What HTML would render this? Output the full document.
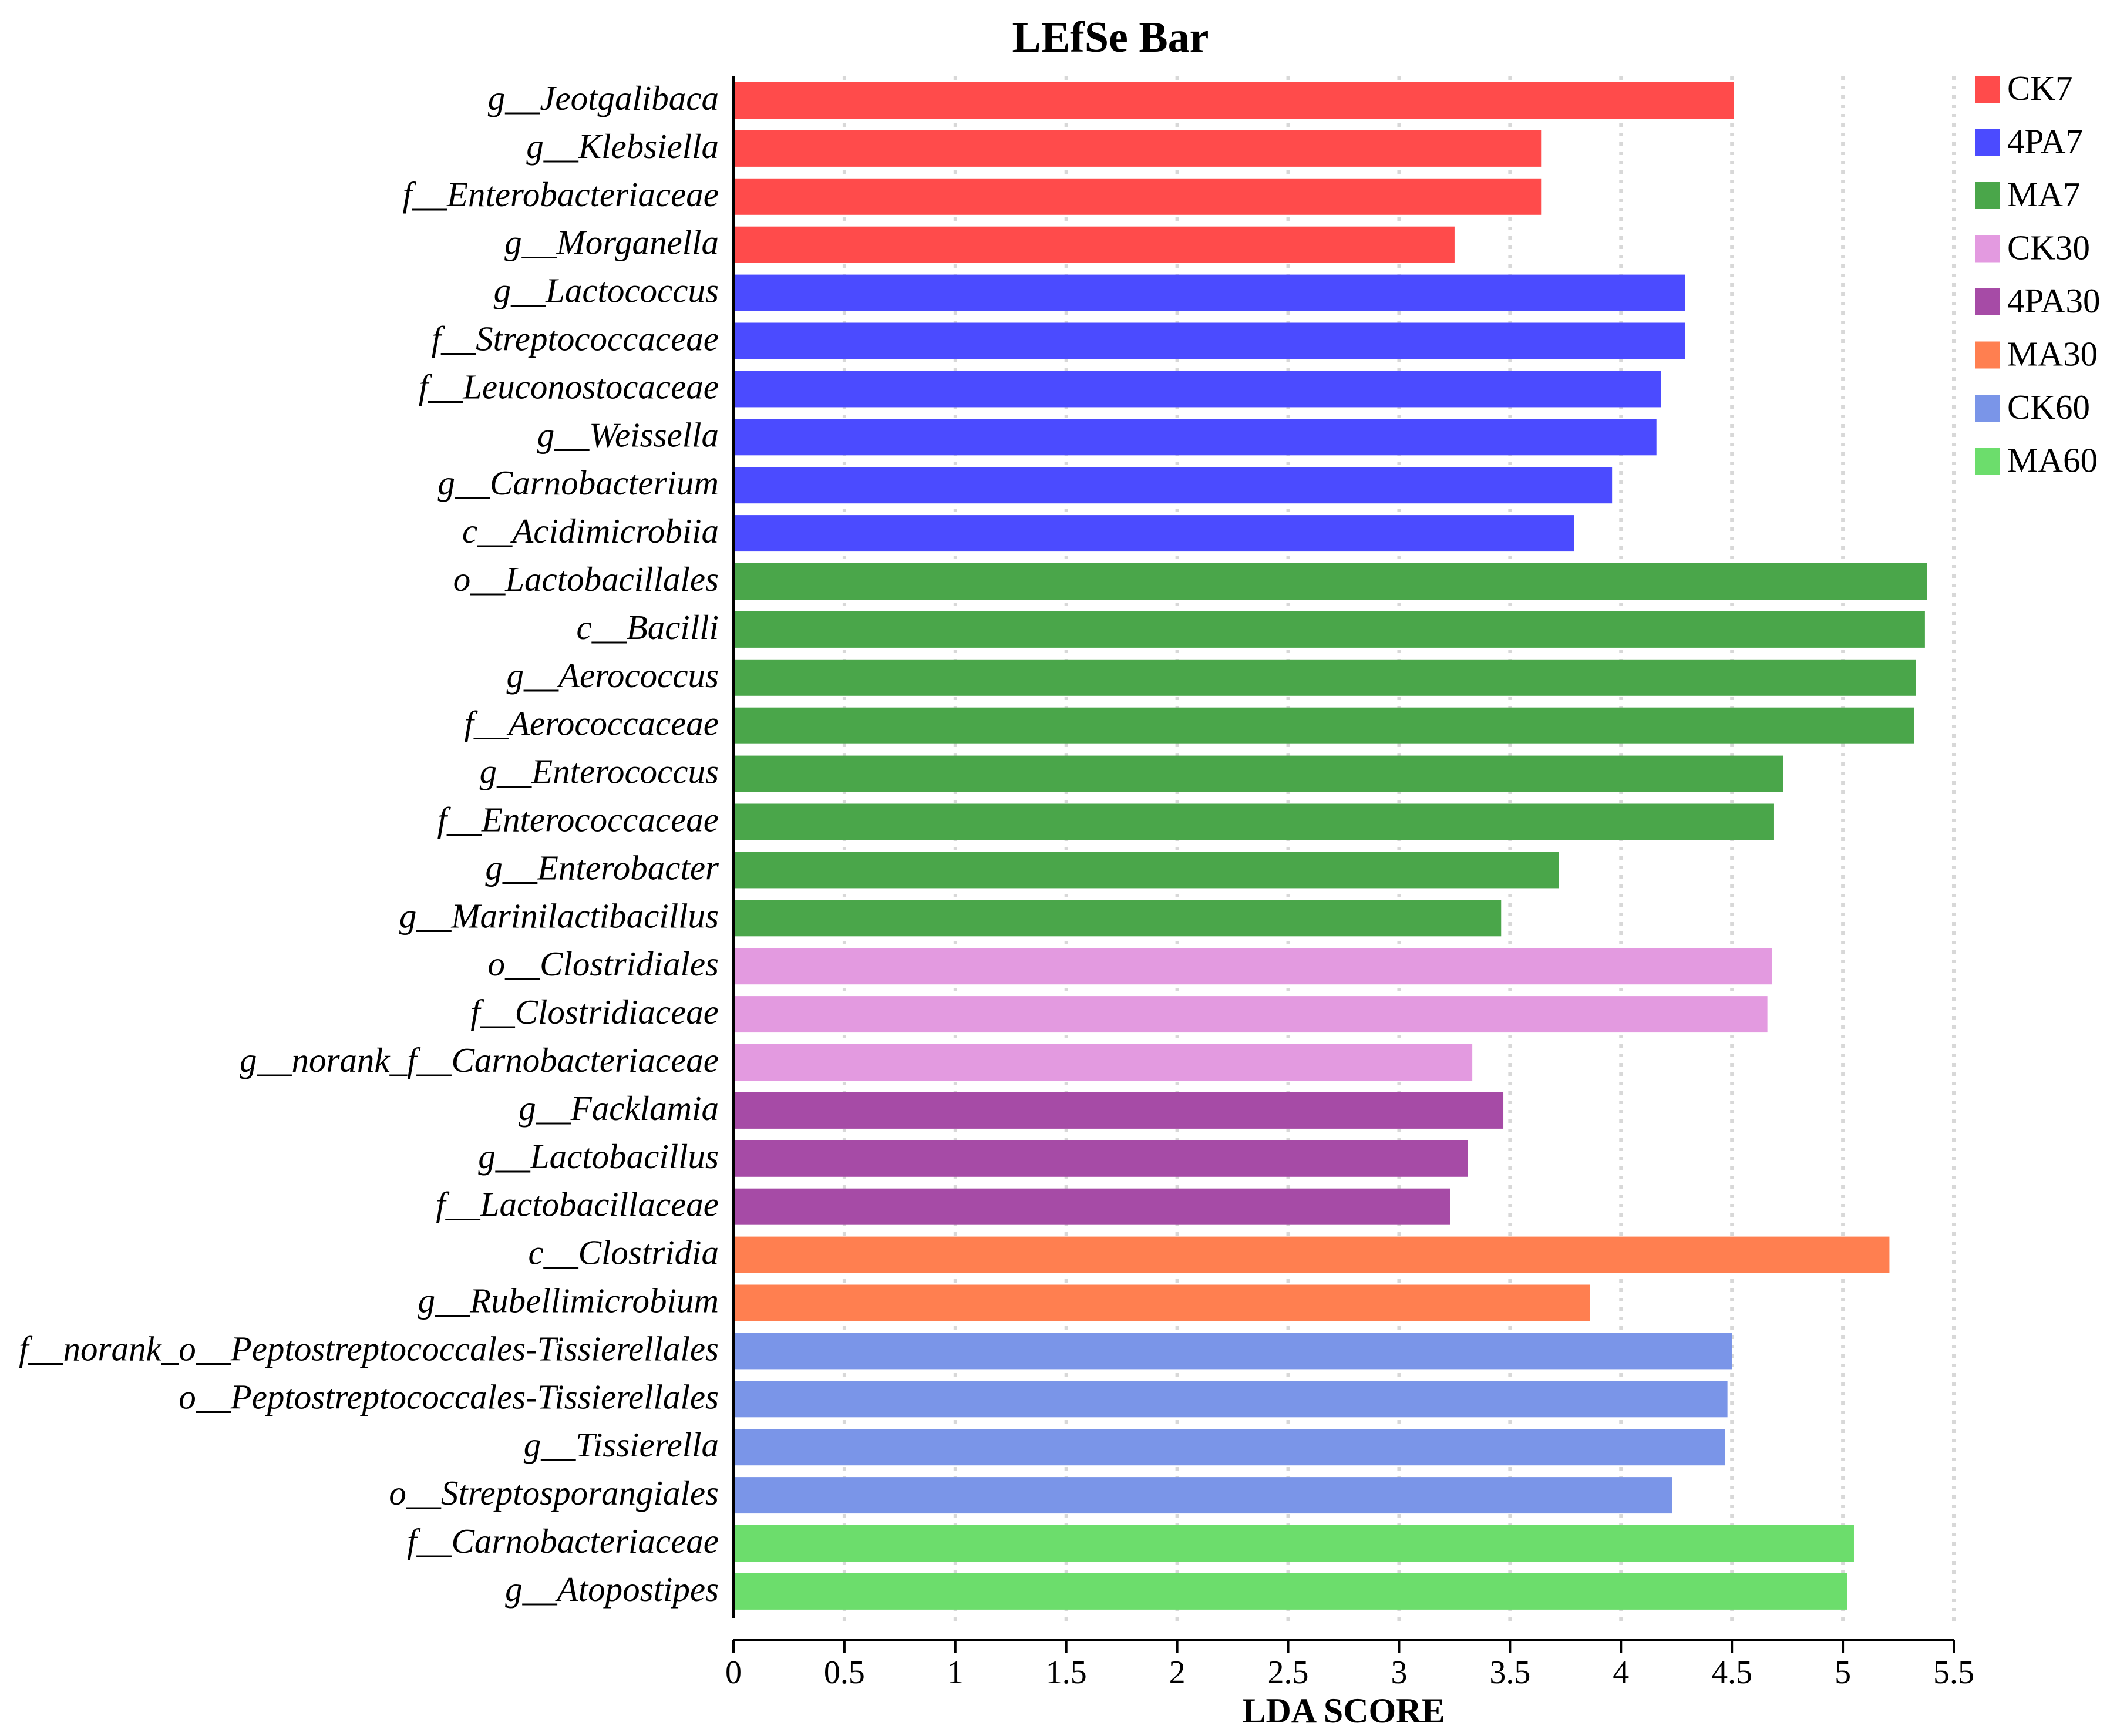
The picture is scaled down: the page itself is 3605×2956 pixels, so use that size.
<!DOCTYPE html>
<html><head><meta charset="utf-8">
<style>html,body{margin:0;padding:0;background:#fff;}svg{display:block;}</style>
</head><body>
<svg id="chart" width="3605" height="2956" xmlns="http://www.w3.org/2000/svg" font-family="'Liberation Serif', serif">
<text x="1891" y="88" font-size="74" font-weight="bold" text-anchor="middle">LEfSe Bar</text>
<text x="2288" y="2933" font-size="60" font-weight="bold" text-anchor="middle">LDA SCORE</text>
<g id="grid"></g><g id="bars"></g><g id="labels"></g><g id="axis"></g><g id="legend"></g>
</svg>
<script>
const taxa = ["g__Jeotgalibaca","g__Klebsiella","f__Enterobacteriaceae","g__Morganella","g__Lactococcus","f__Streptococcaceae","f__Leuconostocaceae","g__Weissella","g__Carnobacterium","c__Acidimicrobiia","o__Lactobacillales","c__Bacilli","g__Aerococcus","f__Aerococcaceae","g__Enterococcus","f__Enterococcaceae","g__Enterobacter","g__Marinilactibacillus","o__Clostridiales","f__Clostridiaceae","g__norank_f__Carnobacteriaceae","g__Facklamia","g__Lactobacillus","f__Lactobacillaceae","c__Clostridia","g__Rubellimicrobium","f__norank_o__Peptostreptococcales-Tissierellales","o__Peptostreptococcales-Tissierellales","g__Tissierella","o__Streptosporangiales","f__Carnobacteriaceae","g__Atopostipes"];
const scores = [4.51,3.64,3.64,3.25,4.29,4.29,4.18,4.16,3.96,3.79,5.38,5.37,5.33,5.32,4.73,4.69,3.72,3.46,4.68,4.66,3.33,3.47,3.31,3.23,5.21,3.86,4.50,4.48,4.47,4.23,5.05,5.02];
const groups = ["CK7","CK7","CK7","CK7","4PA7","4PA7","4PA7","4PA7","4PA7","4PA7","MA7","MA7","MA7","MA7","MA7","MA7","MA7","MA7","CK30","CK30","CK30","4PA30","4PA30","4PA30","MA30","MA30","CK60","CK60","CK60","CK60","MA60","MA60"];
const groupNames = ["CK7","4PA7","MA7","CK30","4PA30","MA30","CK60","MA60"];
const groupColors = ["#ff4b4b","#4b4bff","#4aa64a","#e39ae0","#a64ba6","#ff7f50","#7a95e8","#6cdd6c"];
const ticks = ["0","0.5","1","1.5","2","2.5","3","3.5","4","4.5","5","5.5"];

const NS="http://www.w3.org/2000/svg";
const x0=1249, x1=3327, xmax=5.5;
const xs=v=>x0+(v/xmax)*(x1-x0);
const firstC=171, pitch=81.9, barH=62;
const yc=i=>firstC+i*pitch;
function mk(tag,attrs,parent){const e=document.createElementNS(NS,tag);for(const k in attrs)e.setAttribute(k,attrs[k]);parent.appendChild(e);return e;}
const grid=document.getElementById('grid'),bars=document.getElementById('bars'),labels=document.getElementById('labels'),axis=document.getElementById('axis'),legend=document.getElementById('legend');

ticks.forEach((t,i)=>{
  const v=parseFloat(t);
  if(v>0){
    const g=mk('line',{x1:xs(v),x2:xs(v),y1:130,y2:2760,stroke:'#d8d8d8','stroke-width':6,'stroke-dasharray':'6 10'},grid);
    
    
  }
  const tk=mk('line',{x1:xs(v),x2:xs(v),y1:2793,y2:2815,stroke:'#000','stroke-width':4},axis);
  
  
  const tl=mk('text',{x:xs(v),y:2866,'font-size':56,'text-anchor':'middle'},axis);
  tl.textContent=t;
  
  
});
const xa=mk('line',{x1:x0,x2:x1,y1:2793,y2:2793,stroke:'#000','stroke-width':4},axis);


const ya=mk('line',{x1:x0,x2:x0,y1:130,y2:2755,stroke:'#000','stroke-width':4},axis);



taxa.forEach((name,i)=>{
  const col=groupColors[groupNames.indexOf(groups[i])];
  const r=mk('rect',{x:x0+2,y:yc(i)-barH/2,width:xs(scores[i])-x0-2,height:barH,fill:col},bars);
  
  
  const t=mk('text',{x:1224,y:yc(i)+16,'font-size':59,'font-style':'italic','text-anchor':'end'},labels);
  t.textContent=name;
  
  
});

groupNames.forEach((g,i)=>{
  const y=129+i*90.5;
  const s=mk('rect',{x:3363,y:y,width:42,height:46,fill:groupColors[i]},legend);
  
  
  const t=mk('text',{x:3418,y:y+41,'font-size':59},legend);
  t.textContent=g;
  
  
});
</script>
</body></html>
